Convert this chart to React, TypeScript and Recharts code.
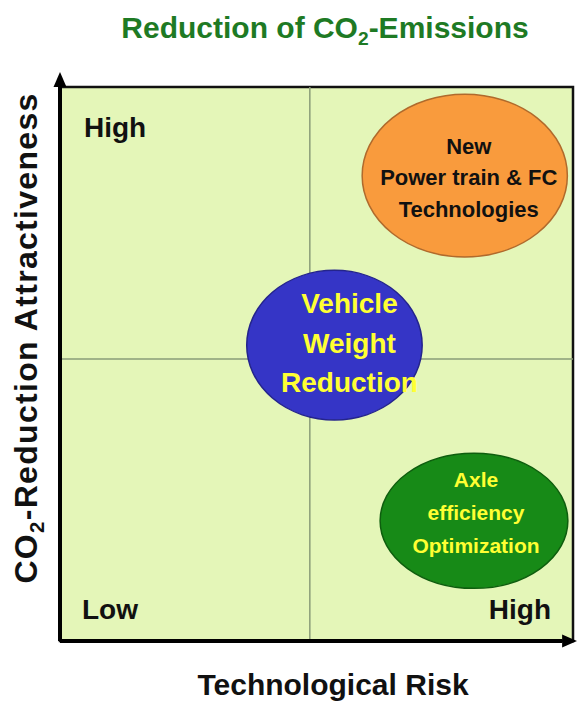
import React from "react";
import {
  ScatterChart,
  Scatter,
  XAxis,
  YAxis,
  ReferenceArea,
  ReferenceLine,
} from "recharts";

// portfolio topics, placed by technological risk (x) and CO2-reduction attractiveness (y), 0..10
const topics = ["powertrain", "weight", "axle"];
const topicLines = [
  ["New", "Power train & FC", "Technologies"],
  ["Vehicle", "Weight", "Reduction"],
  ["Axle", "efficiency", "Optimization"],
];
const risk = [7.89, 5.35, 8.07];
const attractiveness = [8.4, 5.34, 2.17];
const riskSpread = [2.0, 1.71, 1.83];
const attractSpread = [1.47, 1.35, 1.22];

const quadrantRisk = 4.87;
const quadrantAttr = 5.09;

const CHART_W = 577;
const CHART_H = 704;
const MARGIN = { top: 87, right: 4, bottom: 63, left: 60 };
const PX_X = (CHART_W - MARGIN.left - MARGIN.right) / 10;
const PX_Y = (CHART_H - MARGIN.top - MARGIN.bottom) / 10;

const FONT = '"Liberation Sans", Arial, Helvetica, sans-serif';

const bubbleStyle: Record<string, any> = {
  powertrain: { fill: "#f99b3d", stroke: "#b06a2c", text: "#111111", size: 22, gap: 31.5, dy: -22, dx: 4 },
  weight: { fill: "#3535c6", stroke: "#24248c", text: "#ffff33", size: 28, gap: 39.5, dy: -32, dx: 15 },
  axle: { fill: "#178a17", stroke: "#0e5e0e", text: "#ffff33", size: 21, gap: 33, dy: -34, dx: 2 },
};

const data = topics.map((topic, i) => ({
  topic,
  lines: topicLines[i],
  risk: risk[i],
  attr: attractiveness[i],
  riskSpread: riskSpread[i],
  attrSpread: attractSpread[i],
}));

const Bubble = (props: any) => {
  const { cx, cy, payload } = props;
  const s = bubbleStyle[payload.topic];
  return (
    <g>
      <ellipse
        cx={cx}
        cy={cy}
        rx={payload.riskSpread * PX_X}
        ry={payload.attrSpread * PX_Y}
        fill={s.fill}
        stroke={s.stroke}
        strokeWidth={1.5}
      />
      <text textAnchor="middle" fill={s.text} fontSize={s.size} fontWeight={700} fontFamily={FONT}>
        {payload.lines.map((l: string, i: number) => (
          <tspan key={l} x={cx + s.dx} y={cy + s.dy + i * s.gap}>
            {l}
          </tspan>
        ))}
      </text>
    </g>
  );
};

const Arrow = (p: any) => {
  const { x1, y1, x2, y2 } = p;
  const a = Math.atan2(y2 - y1, x2 - x1);
  const len = 15;
  const half = 6.5;
  const bx = x2 - len * Math.cos(a);
  const by = y2 - len * Math.sin(a);
  const nx = -Math.sin(a) * half;
  const ny = Math.cos(a) * half;
  return (
    <g>
      <line x1={x1} y1={y1} x2={bx} y2={by} stroke="#000" strokeWidth={4} />
      <polygon points={`${x2},${y2} ${bx + nx},${by + ny} ${bx - nx},${by - ny}`} fill="#000" />
    </g>
  );
};

const cornerLabel = { fill: "#111", fontSize: 28, fontWeight: 700, fontFamily: FONT };

export default function App() {
  return (
    <div style={{ position: "absolute", left: 0, top: 0, width: CHART_W, height: CHART_H, fontFamily: FONT }}>
      <div
        style={{
          position: "absolute",
          left: 325,
          top: 13,
          transform: "translateX(-50%)",
          whiteSpace: "nowrap",
          fontSize: 30,
          lineHeight: "30px",
          fontWeight: 700,
          color: "#1e7a24",
        }}
      >
        Reduction of CO<span style={{ fontSize: "0.64em", verticalAlign: "-7px" }}>2</span>-Emissions
      </div>

      <ScatterChart width={CHART_W} height={CHART_H} margin={MARGIN}>
        <XAxis type="number" dataKey="risk" domain={[0, 10]} hide />
        <YAxis type="number" dataKey="attr" domain={[0, 10]} hide />
        <ReferenceArea x1={0} x2={10} y1={0} y2={10} fill="#e4f6b8" fillOpacity={1} stroke="#111" strokeWidth={2.5} />
        <ReferenceArea
          x1={0}
          x2={10}
          y1={0}
          y2={10}
          fillOpacity={0}
          strokeOpacity={0}
          label={{ value: "High", position: "insideTopLeft", offset: 24, dy: 6, ...cornerLabel }}
        />
        <ReferenceArea
          x1={0}
          x2={10}
          y1={0}
          y2={10}
          fillOpacity={0}
          strokeOpacity={0}
          label={{ value: "Low", position: "insideBottomLeft", offset: 22, ...cornerLabel }}
        />
        <ReferenceArea
          x1={0}
          x2={10}
          y1={0}
          y2={10}
          fillOpacity={0}
          strokeOpacity={0}
          label={{ value: "High", position: "insideBottomRight", offset: 22, ...cornerLabel }}
        />
        <ReferenceLine x={quadrantRisk} stroke="#8a9c78" strokeWidth={1.5} />
        <ReferenceLine y={quadrantAttr} stroke="#8a9c78" strokeWidth={1.5} />
        <ReferenceLine
          segment={[{ x: 0, y: 0 }, { x: 0, y: 10.27 }]}
          ifOverflow="visible"
          shape={Arrow}
        />
        <ReferenceLine
          segment={[{ x: 0, y: 0 }, { x: 10.08, y: 0 }]}
          ifOverflow="visible"
          shape={Arrow}
        />
        <Scatter data={data} shape={Bubble} isAnimationActive={false} />
      </ScatterChart>

      <div
        style={{
          position: "absolute",
          left: 333,
          top: 670,
          transform: "translateX(-50%)",
          whiteSpace: "nowrap",
          fontSize: 30,
          lineHeight: "30px",
          fontWeight: 700,
          color: "#111",
        }}
      >
        Technological Risk
      </div>

      <div
        style={{
          position: "absolute",
          left: 31,
          top: 337.5,
          transform: "translate(-50%, -50%) rotate(-90deg)",
          whiteSpace: "nowrap",
          fontSize: 32,
          letterSpacing: "1.3px",
          lineHeight: "30px",
          fontWeight: 700,
          color: "#111",
        }}
      >
        CO<span style={{ fontSize: "0.64em", verticalAlign: "-7px" }}>2</span>-Reduction Attractiveness
      </div>
    </div>
  );
}
